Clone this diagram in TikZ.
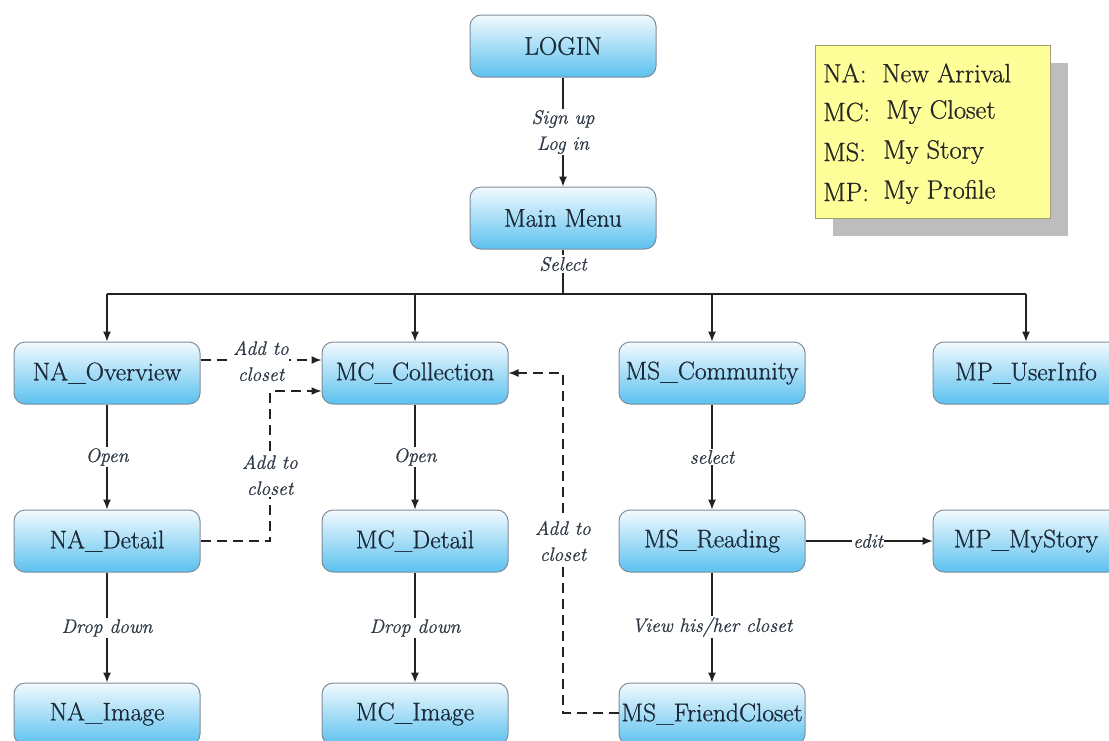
\documentclass[tikz,border=0pt]{standalone}
\usepackage{fontspec}
\newfontfamily\diagfont{Latin Modern Roman}[FakeBold=0.8]
\usetikzlibrary{arrows.meta}
\definecolor{boxtop}{HTML}{F2FAFE}
\definecolor{boxbot}{HTML}{5CC1EF}
\definecolor{boxline}{HTML}{7F8C99}
\definecolor{boxtext}{HTML}{1B2838}
\definecolor{wire}{HTML}{222222}
\definecolor{legendfill}{HTML}{FFFF99}
\definecolor{legendline}{HTML}{A0A070}
\definecolor{legendshadow}{HTML}{BDBDBD}
\tikzset{
  stepbox/.style={draw=boxline, line width=1pt, rounded corners=11pt,
    top color=boxtop, bottom color=boxbot, minimum width=186pt,
    minimum height=62pt, inner sep=0pt, text=boxtext,
    font=\diagfont\fontsize{25.5}{30}\selectfont},
  flow/.style={draw=wire, line width=1.2pt, -{Latex[length=10pt,width=8pt]}},
  flowline/.style={draw=wire, line width=1.2pt},
  dflow/.style={draw=wire, line width=1.4pt, dash pattern=on 10pt off 6pt,
    -{Latex[length=10pt,width=8pt]}},
  lbl/.style={fill=white, inner sep=1.5pt, text=boxtext!80!gray,
    font=\diagfont\fontsize{19.5}{26}\selectfont\itshape, align=center},
  legtext/.style={anchor=west, inner sep=0pt, text=black!85,
    font=\diagfont\fontsize{26.5}{30}\selectfont}
}
\begin{document}
\begin{tikzpicture}[x=1pt,y=-1pt]
\useasboundingbox (0,0) rectangle (1109,740);
\clip (0,0) rectangle (1109,740);

% legend with drop shadow
\fill[legendshadow] (833,63) rectangle (1068,236);
\draw[legendline, line width=0.8pt, fill=legendfill] (815,45) rectangle (1050,218);
\node[legtext] (kna) at (823,73) {NA:};
\node[legtext] (vna) at (882,73) {New Arrival};
\node[legtext] (kmc) at (823,112) {MC:};
\node[legtext] (vmc) at (886,112) {My Closet};
\node[legtext] (kms) at (823,152) {MS:};
\node[legtext] (vms) at (883,152) {My Story};
\node[legtext] (kmp) at (823,192) {MP:};
\node[legtext] (vmp) at (883,192) {My Profile};

% screens
\node[stepbox] (login) at (563,46) {LOGIN};
\node[stepbox] (main) at (563,218) {Main Menu};

\node[stepbox] (na1) at (107,373) {NA\_Overview};
\node[stepbox] (mc1) at (415,373) {MC\_Collection};
\node[stepbox] (ms1) at (712,373) {MS\_Community};
\node[stepbox] (mp1) at (1026,373) {MP\_UserInfo};

\node[stepbox] (na2) at (107,541) {NA\_Detail};
\node[stepbox] (mc2) at (415,541) {MC\_Detail};
\node[stepbox] (ms2) at (712,541) {MS\_Reading};
\node[stepbox] (mp2) at (1026,541) {MP\_MyStory};

\node[stepbox] (na3) at (107,714) {NA\_Image};
\node[stepbox] (mc3) at (415,714) {MC\_Image};
\node[stepbox] (ms3) at (712,714) {MS\_FriendCloset};

% login -> main menu
\draw[flow] (login) -- (main);
\node[lbl] (lsign) at (563,132) {Sign up\\Log in};

% main menu -> bus -> first row
\coordinate (bus) at (563,294);
\draw[flowline] (main) -- (bus);
\node[lbl] (lsel) at (563,264) {Select};
\draw[flowline] (na1.north |- bus) -- (mp1.north |- bus);
\draw[flow] (na1.north |- bus) -- (na1);
\draw[flow] (mc1.north |- bus) -- (mc1);
\draw[flow] (ms1.north |- bus) -- (ms1);
\draw[flow] (mp1.north |- bus) -- (mp1);

% vertical flows
\draw[flow] (na1) -- (na2);
\node[lbl] (lopen1) at (107,457) {Open};
\draw[flow] (mc1) -- (mc2);
\node[lbl] (lopen2) at (415,457) {Open};
\draw[flow] (ms1) -- (ms2);
\node[lbl] (lselect) at (712,457) {select};
\draw[flow] (na2) -- (na3);
\node[lbl] (ldrop1) at (107,628) {Drop down};
\draw[flow] (mc2) -- (mc3);
\node[lbl] (ldrop2) at (415,628) {Drop down};
\draw[flow] (ms2) -- (ms3);
\node[lbl] (lview) at (712,627) {View his/her closet};

% edit
\draw[flow] (ms2) -- (mp2);
\node[lbl, inner sep=1pt] (ledit) at (868,541) {edit};

% add to closet (dashed)
\draw[dflow] (na1.east |- 0,360) -- (mc1.west |- 0,360);
\node[lbl, inner sep=0.5pt] (ladd1) at (261,361) {Add to\\closet};

\coordinate (bendA) at (270,541);
\draw[dflow] (na2.east) -- (bendA) -- (270,391) -- (mc1.west |- 0,391);
\node[lbl] (ladd2) at (270,475) {Add to\\closet};

\coordinate (bendB) at (563,713);
\draw[dflow] (ms3.west |- bendB) -- (bendB) -- (563,373) -- (mc1.east);
\node[lbl] (ladd3) at (563,541) {Add to\\closet};
\end{tikzpicture}
\end{document}
